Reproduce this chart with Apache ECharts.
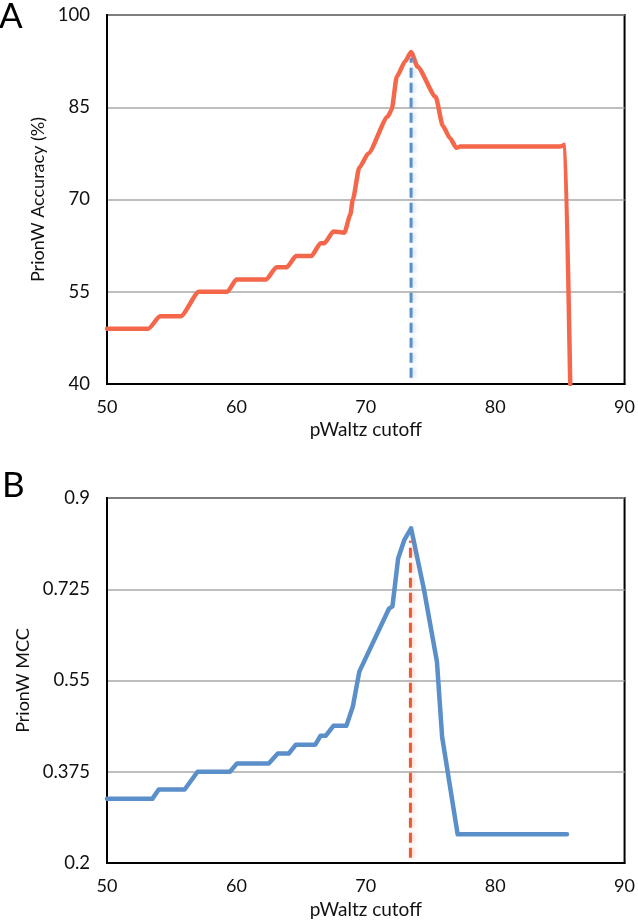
<!DOCTYPE html>
<html>
<head>
<meta charset="utf-8">
<script src="https://cdn.jsdelivr.net/npm/echarts@6/dist/echarts.min.js"></script>
<style>
html,body{margin:0;padding:0;background:#fff;}
#c{width:638px;height:922px;}
</style>
</head>
<body>
<div id="c"></div>
<script>
// ---- data ----
const xTicks = [50, 60, 70, 80, 90];
const yTicksA = [40, 55, 70, 85, 100];
const yTicksB = [0.2, 0.375, 0.55, 0.725, 0.9];

const accuracyX = [50, 53.2, 54.1, 55.7, 57.1, 59.3, 60.0, 62.3, 63.1, 63.9, 64.6, 65.8, 66.5, 66.8, 67.5, 68.35, 68.8, 69.0, 69.5, 70.2, 71.7, 72.0, 72.4, 73.05, 73.5, 74.0, 75.4, 75.95, 76.5, 77.0, 77.3, 85.0, 85.4, 85.8];
const accuracyY = [49, 49, 51, 51, 55, 55, 57, 57, 59, 59, 60.8, 60.8, 62.9, 62.9, 64.8, 64.6, 67.5, 70, 75.2, 77.5, 83.5, 84.6, 90, 92.5, 94, 91.6, 86.7, 82, 80, 78.4, 78.6, 78.6, 78.9, 40];

const mccX = [50, 53.5, 54.0, 56.0, 57.0, 59.5, 60.05, 62.5, 63.2, 64.05, 64.6, 66.1, 66.5, 66.9, 67.5, 68.5, 69.0, 69.5, 71.8, 72.06, 72.5, 72.97, 73.5, 74.5, 75.5, 75.9, 77.1, 85.55];
const mccY = [0.323, 0.323, 0.341, 0.341, 0.375, 0.375, 0.391, 0.391, 0.41, 0.41, 0.427, 0.427, 0.444, 0.444, 0.463, 0.463, 0.5, 0.567, 0.688, 0.692, 0.784, 0.819, 0.842, 0.724, 0.586, 0.442, 0.255, 0.255];

const bestCutoffA = [73.5, 73.5];
const bestCutoffAY = [41, 93];
const bestCutoffB = [73.45, 73.45];
const bestCutoffBY = [0.21, 0.818];

const zip = (a, b) => a.map((v, i) => [v, b[i]]);

const FONT = 'Lato';
const TXT = '#111';

function xAxisFor(gridIndex, gap) {
  return {
    type: 'value', gridIndex, min: 50, max: 90, interval: 10,
    name: 'pWaltz cutoff', nameLocation: 'middle', nameGap: gap,
    nameTextStyle: { fontFamily: FONT, fontSize: 19, color: TXT },
    axisLine: { show: true, lineStyle: { color: '#000', width: 2 } },
    axisTick: { show: false },
    splitLine: { show: false },
    axisLabel: { fontFamily: FONT, fontSize: 18, color: TXT, margin: 14,
      customValues: xTicks }
  };
}
function yAxisFor(gridIndex, min, max, ticks, name, gap) {
  return {
    type: 'value', gridIndex, min, max,
    name, nameLocation: 'middle', nameGap: gap,
    nameTextStyle: { fontFamily: FONT, fontSize: 18, color: TXT },
    axisLine: { show: true, lineStyle: { color: '#000', width: 2 } },
    axisTick: { show: false, customValues: ticks },
    splitLine: { show: true, lineStyle: { color: '#a8a8a8', width: 1.5 } },
    axisLabel: { fontFamily: FONT, fontSize: 18.5, color: TXT, margin: 17,
      customValues: ticks, formatter: v => String(+(+v).toFixed(3)) }
  };
}

const chart = echarts.init(document.getElementById('c'), null, { renderer: 'canvas' });
chart.setOption({
  animation: false,
  backgroundColor: '#fff',
  grid: [
    { left: 107, top: 15, width: 521, height: 369, show: true, borderColor: '#000', borderWidth: 2, backgroundColor: 'transparent', containLabel: false },
    { left: 107, top: 498, width: 519, height: 365, show: true, borderColor: '#000', borderWidth: 2, backgroundColor: 'transparent', containLabel: false }
  ],
  xAxis: [xAxisFor(0, 36), xAxisFor(1, 37)],
  yAxis: [
    yAxisFor(0, 40, 100, yTicksA, 'PrionW Accuracy (%)', 46),
    yAxisFor(1, 0.2, 0.9, yTicksB, 'PrionW MCC', 68)
  ],
  graphic: [
    { type: 'text', left: -1, top: -1, style: { text: 'A', fontFamily: FONT, fontSize: 35, fill: '#000' } },
    { type: 'text', left: 2, top: 468, style: { text: 'B', fontFamily: FONT, fontSize: 35, fill: '#000' } }
  ],
  series: [
    {
      type: 'line', xAxisIndex: 0, yAxisIndex: 0, data: zip(accuracyX, accuracyY),
      showSymbol: false, smooth: 0.2, smoothMonotone: 'x', clip: true,
      lineStyle: { color: '#f4674b', width: 4.5, cap: 'round', join: 'round' }
    },
    {
      type: 'line', xAxisIndex: 0, yAxisIndex: 0, data: zip(bestCutoffA, bestCutoffAY),
      showSymbol: false,
      lineStyle: { color: '#5b8fc9', width: 3, type: [10, 5], shadowBlur: 4, shadowColor: 'rgba(91,143,201,0.35)', shadowOffsetX: 2 }
    },
    {
      type: 'line', xAxisIndex: 1, yAxisIndex: 1, data: zip(mccX, mccY),
      showSymbol: false, clip: true,
      lineStyle: { color: '#5b8fc9', width: 4.5, cap: 'round', join: 'round' }
    },
    {
      type: 'line', xAxisIndex: 1, yAxisIndex: 1, data: zip(bestCutoffB, bestCutoffBY),
      showSymbol: false,
      lineStyle: { color: '#ea5a33', width: 3, type: [10, 5], shadowBlur: 4, shadowColor: 'rgba(234,90,51,0.35)', shadowOffsetX: 2 }
    }
  ]
});
</script>
</body>
</html>
